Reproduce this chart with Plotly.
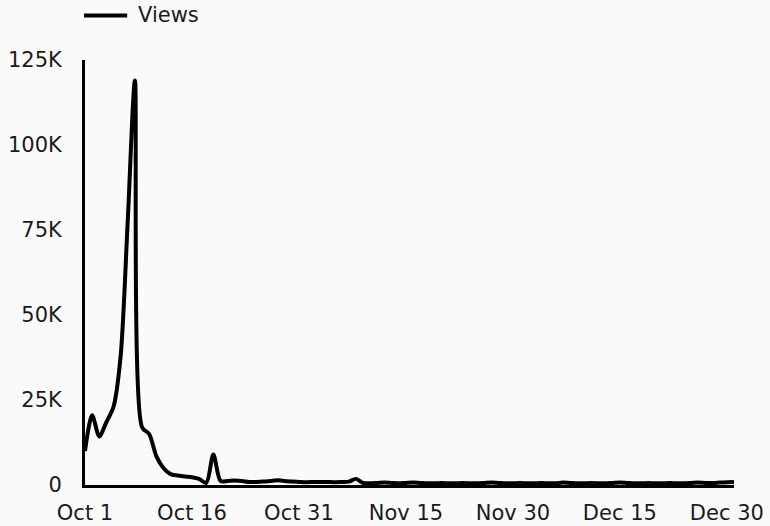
import pandas as pd
import plotly.graph_objects as go

# Daily views, Oct 1 - Dec 31
start_date = "2023-10-01"
views = [
    10000, 20500, 14300, 18500, 23000, 38000, 78000, 119000, 17000, 15000,
    8500, 5000, 3200, 2800, 2500, 2300, 1800, 600, 9000, 1200,
    1200, 1300, 1200, 900, 900, 1000, 1200, 1400, 1200, 1000,
    900, 800, 900, 900, 900, 800, 900, 1000, 1800, 600,
    500, 600, 700, 600, 500, 600, 700, 600, 500, 500,
    600, 500, 500, 600, 500, 500, 600, 700, 600, 500,
    500, 600, 500, 500, 600, 500, 500, 700, 600, 500,
    500, 600, 500, 500, 600, 700, 600, 500, 500, 600,
    500, 500, 600, 500, 500, 600, 700, 600, 600, 700,
    800, 900,
]
dates = pd.date_range(start_date, periods=len(views), freq="D")
series_name = "Views"

tick_dates = pd.date_range(start_date, periods=7, freq="15D")
tick_labels = [d.strftime("%b ") + str(d.day) for d in tick_dates]
y_ticks = [0, 25000, 50000, 75000, 100000, 125000]
y_labels = ["0", "25K", "50K", "75K", "100K", "125K"]

FONT = "DejaVu Sans"
BG = "#fafafa"
INK = "#1a1a1a"
SIZE = 21

fig = go.Figure(
    go.Scatter(
        x=dates,
        y=views,
        mode="lines",
        name=series_name,
        showlegend=False,
        line=dict(color="black", width=4, shape="spline", smoothing=0.8),
    )
)

# Legend key: a short line sample followed by the series name
fig.add_shape(
    type="line",
    xref="paper", yref="paper",
    x0=-0.0015, x1=0.065, y0=1.105, y1=1.105,
    line=dict(color="black", width=4),
)
fig.add_annotation(
    text=series_name,
    xref="paper", yref="paper",
    x=0.078, y=1.105,
    xanchor="left", yanchor="middle",
    showarrow=False,
    font=dict(family=FONT, size=SIZE, color=INK),
)

fig.update_layout(
    width=770,
    height=526,
    paper_bgcolor=BG,
    plot_bgcolor=BG,
    margin=dict(l=85, r=36, t=60, b=41),
    font=dict(family=FONT, size=SIZE, color=INK),
    showlegend=False,
)

fig.update_xaxes(
    range=[dates[0], dates[-1]],
    tickvals=tick_dates,
    ticktext=tick_labels,
    showgrid=False,
    zeroline=False,
    showline=True,
    linecolor="black",
    linewidth=3,
    ticks="outside",
    ticklen=7,
    tickcolor=BG,
    automargin=False,
)
fig.update_yaxes(
    range=[0, 125000],
    tickvals=y_ticks,
    ticktext=y_labels,
    showgrid=False,
    zeroline=False,
    showline=True,
    linecolor="black",
    linewidth=3,
    ticks="outside",
    ticklen=16,
    tickcolor=BG,
    automargin=False,
)

fig.write_html("out.html")
